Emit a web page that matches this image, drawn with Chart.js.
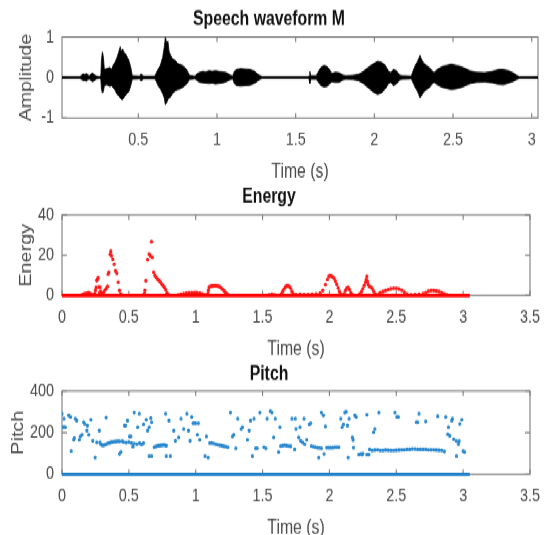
<!DOCTYPE html>
<html>
<head>
<meta charset="utf-8">
<script src="https://cdn.jsdelivr.net/npm/chart.js@4.4.1/dist/chart.umd.min.js"></script>
<style>
html, body { margin: 0; padding: 0; background: #fff; overflow: hidden; }
#wrap { position: absolute; left: 0; top: 0; width: 549px; height: 428px; transform: scaleY(1.25); transform-origin: 0 0; }
canvas { position: absolute; left: 0; }
</style>
</head>
<body>
<div id="wrap">
  <canvas id="wave" width="549" height="152" style="top:0px"></canvas>
  <canvas id="energy" width="549" height="152" style="top:142px"></canvas>
  <canvas id="pitch" width="549" height="152" style="top:285px"></canvas>
</div>
<script>
// waveform envelope (upper / lower)
const waveTime  = [0.015, 0.13, 0.14, 0.15, 0.16, 0.17, 0.18, 0.19, 0.20, 0.21, 0.22, 0.235, 0.255, 0.262, 0.266, 0.272, 0.278, 0.284, 0.30, 0.32, 0.33, 0.34, 0.355, 0.365, 0.375, 0.385, 0.39, 0.40, 0.41, 0.42, 0.43, 0.44, 0.452, 0.462,
  0.51, 0.515, 0.525, 0.53, 0.605, 0.615, 0.625, 0.64, 0.655, 0.665, 0.672, 0.68, 0.688, 0.695, 0.705, 0.72, 0.735, 0.75, 0.765, 0.78, 0.795, 0.81, 0.825,
  0.86, 0.875, 0.89, 0.91, 0.93, 0.95, 0.97, 0.99, 1.01, 1.04, 1.06, 1.08, 1.1, 1.11, 1.125, 1.15, 1.18, 1.21, 1.24, 1.26, 1.28, 1.29,
  1.58, 1.585, 1.59, 1.596, 1.63, 1.645, 1.66, 1.68, 1.70, 1.715, 1.73, 1.75, 1.775, 1.80, 1.82, 1.86, 1.9, 1.93, 1.96, 1.99, 2.02, 2.045, 2.07, 2.09, 2.105, 2.12, 2.14, 2.16, 2.18,
  2.235, 2.245, 2.26, 2.275, 2.29, 2.30, 2.315, 2.33, 2.35, 2.37, 2.38, 2.40, 2.43, 2.46, 2.49, 2.52, 2.55, 2.58, 2.61, 2.65, 2.70, 2.75, 2.79, 2.82, 2.85, 2.88, 2.905, 2.92, 3.04];
const waveUpper = [0.02, 0.02, 0.06, 0.09, 0.07, 0.1, 0.06, 0.04, 0.09, 0.11, 0.07, 0.03, 0.02, 0.05, 0.45, 0.63, 0.5, 0.2, 0.22, 0.25, 0.2, 0.3, 0.4, 0.5, 0.62, 0.76, 0.65, 0.7, 0.62, 0.58, 0.5, 0.42, 0.25, 0.04,
  0.03, 0.08, 0.07, 0.03, 0.03, 0.12, 0.2, 0.3, 0.5, 0.75, 1.0, 0.85, 0.9, 0.65, 0.55, 0.45, 0.42, 0.35, 0.32, 0.3, 0.25, 0.18, 0.05,
  0.03, 0.1, 0.13, 0.15, 0.14, 0.17, 0.15, 0.17, 0.15, 0.14, 0.12, 0.07, 0.03, 0.15, 0.2, 0.22, 0.21, 0.2, 0.15, 0.08, 0.03, 0.02,
  0.02, 0.04, 0.15, 0.04, 0.04, 0.15, 0.25, 0.3, 0.27, 0.2, 0.1, 0.13, 0.12, 0.06, 0.04, 0.05, 0.08, 0.15, 0.25, 0.33, 0.4, 0.38, 0.3, 0.15, 0.12, 0.2, 0.17, 0.06, 0.04,
  0.03, 0.15, 0.3, 0.4, 0.55, 0.45, 0.35, 0.3, 0.25, 0.15, 0.12, 0.2, 0.27, 0.3, 0.33, 0.3, 0.27, 0.22, 0.16, 0.13, 0.12, 0.15, 0.2, 0.2, 0.17, 0.12, 0.05, 0.02, 0.02];
const waveLower = [-0.02, -0.02, -0.05, -0.08, -0.07, -0.09, -0.05, -0.04, -0.08, -0.1, -0.08, -0.03, -0.02, -0.05, -0.3, -0.38, -0.35, -0.2, -0.18, -0.22, -0.2, -0.25, -0.33, -0.42, -0.45, -0.5, -0.53, -0.55, -0.48, -0.44, -0.38, -0.35, -0.2, -0.04,
  -0.03, -0.08, -0.07, -0.03, -0.03, -0.1, -0.2, -0.28, -0.4, -0.5, -0.67, -0.62, -0.55, -0.5, -0.48, -0.38, -0.33, -0.3, -0.28, -0.25, -0.2, -0.15, -0.05,
  -0.03, -0.08, -0.12, -0.13, -0.14, -0.15, -0.14, -0.16, -0.15, -0.13, -0.1, -0.06, -0.03, -0.15, -0.2, -0.21, -0.2, -0.19, -0.14, -0.08, -0.03, -0.02,
  -0.02, -0.04, -0.15, -0.04, -0.04, -0.12, -0.2, -0.23, -0.22, -0.16, -0.1, -0.12, -0.12, -0.06, -0.04, -0.05, -0.08, -0.15, -0.25, -0.35, -0.42, -0.38, -0.28, -0.15, -0.12, -0.2, -0.16, -0.06, -0.04,
  -0.03, -0.12, -0.25, -0.35, -0.5, -0.45, -0.35, -0.3, -0.25, -0.15, -0.12, -0.18, -0.24, -0.27, -0.3, -0.28, -0.25, -0.2, -0.15, -0.12, -0.11, -0.13, -0.17, -0.18, -0.14, -0.1, -0.05, -0.02, -0.02];

// short-time energy (non-zero frames)
const energyTime  = [0.15, 0.16, 0.17, 0.18, 0.19, 0.20, 0.21, 0.22, 0.23, 0.245, 0.25, 0.255, 0.26, 0.265, 0.27, 0.275, 0.28, 0.285, 0.29, 0.30, 0.31, 0.32, 0.33, 0.34, 0.345, 0.35, 0.36, 0.365, 0.37, 0.38, 0.39, 0.40, 0.41, 0.42, 0.43, 0.44,
  0.615, 0.62, 0.627, 0.64, 0.652, 0.66, 0.669, 0.675, 0.685, 0.695, 0.705, 0.715, 0.725, 0.735, 0.745, 0.755, 0.765, 0.775, 0.785, 0.795,
  0.87, 0.89, 0.91, 0.93, 0.95, 0.97, 0.99, 1.01, 1.03, 1.05, 1.07,
  1.09, 1.095, 1.10, 1.11, 1.12, 1.13, 1.14, 1.15, 1.16, 1.17, 1.18, 1.19, 1.20, 1.21, 1.22, 1.23, 1.24,
  1.55, 1.57, 1.59, 1.64, 1.65, 1.66, 1.67, 1.68, 1.69, 1.70, 1.71, 1.72, 1.73, 1.75, 1.78, 1.81, 1.84, 1.87, 1.90,
  1.93, 1.95, 1.97, 1.985, 1.995, 2.005, 2.015, 2.025, 2.035, 2.045, 2.055, 2.065, 2.075, 2.085,
  2.11, 2.12, 2.13, 2.14, 2.15, 2.16, 2.17,
  2.225, 2.24, 2.25, 2.26, 2.27, 2.275, 2.28, 2.285, 2.29, 2.30, 2.31, 2.32, 2.33, 2.34, 2.35,
  2.37, 2.38, 2.40, 2.42, 2.44, 2.46, 2.48, 2.50, 2.52, 2.54, 2.56, 2.58, 2.61, 2.64, 2.67, 2.70,
  2.72, 2.74, 2.76, 2.78, 2.80, 2.82, 2.84, 2.86, 2.88];
const energyValue = [0.4, 0.6, 0.9, 1.0, 1.2, 1.4, 1.0, 0.6, 0.3, 1.0, 2.5, 4.0, 7.5, 8.2, 8.8, 4.2, 1.5, 4.0, 2.0, 1.0, 1.5, 2.5, 3.5, 4.5, 10.7, 11.5, 20.5, 22, 19.8, 18, 15.6, 12.3, 11, 6.6, 2.5, 0.8,
  1.0, 2.5, 7.4, 17.8, 20.6, 19.8, 26.8, 18.9, 11.5, 9.9, 9.0, 8.2, 7.5, 6.8, 5.8, 5.0, 4.2, 3.0, 1.4, 0.5,
  0.3, 0.7, 1.0, 1.2, 1.4, 1.5, 1.5, 1.4, 1.2, 0.8, 0.4,
  1.0, 2.5, 4.2, 4.6, 4.8, 4.8, 4.9, 4.9, 4.8, 4.7, 4.3, 3.8, 3.2, 2.5, 1.8, 1.1, 0.5,
  0.4, 0.6, 0.3, 0.8, 2.0, 3.2, 4.2, 4.8, 4.9, 4.5, 3.6, 2.0, 0.8, 0.5, 0.6, 0.5, 0.5, 0.6, 0.8,
  1.2, 2.5, 5.5, 8.0, 9.5, 9.9, 9.6, 9.2, 8.5, 7.2, 5.6, 3.8, 2.0, 0.8,
  1.0, 2.5, 3.8, 4.1, 3.0, 1.5, 0.5,
  0.8, 2.0, 3.5, 5.0, 6.6, 8.0, 9.5, 7.0, 5.4, 4.5, 4.2, 3.5, 2.2, 1.0, 0.4,
  0.8, 1.5, 2.0, 2.5, 3.0, 3.4, 3.6, 3.6, 3.3, 2.7, 1.8, 0.8, 0.4, 0.5, 0.6, 0.9,
  1.5, 2.2, 2.5, 2.5, 2.3, 2.0, 1.5, 0.8, 0.3];

// pitch estimates (voiced frames)
const pitchTime  = [0.0, 0.005, 0.015, 0.025, 0.015, 0.05, 0.064, 0.069, 0.088, 0.092, 0.1, 0.11, 0.13, 0.137, 0.15, 0.162, 0.17, 0.19, 0.186, 0.2, 0.216, 0.23, 0.248, 0.26, 0.279, 0.284,
  0.29, 0.30, 0.31, 0.32, 0.33, 0.34, 0.35, 0.36, 0.37, 0.38, 0.39, 0.40, 0.41, 0.42, 0.43, 0.45, 0.46, 0.48, 0.50, 0.52, 0.54, 0.56, 0.58, 0.60, 0.61,
  0.33, 0.43, 0.44, 0.468, 0.475, 0.49, 0.505, 0.515, 0.53, 0.54, 0.566, 0.578, 0.59, 0.61, 0.63, 0.64, 0.652, 0.664, 0.67, 0.652, 0.67,
  0.69, 0.70, 0.71, 0.72, 0.73, 0.74, 0.75, 0.76, 0.77, 0.78,
  0.775, 0.78, 0.80, 0.81, 0.836, 0.848, 0.872, 0.89, 0.91, 0.934, 0.946, 0.958, 0.97, 0.98, 0.99, 1.0, 1.012, 1.02, 1.03, 1.07, 1.093, 1.08,
  1.105, 1.12, 1.135, 1.15, 1.165, 1.18, 1.195, 1.21, 1.225, 1.24,
  1.26, 1.275, 1.285, 1.3, 1.314, 1.34, 1.35, 1.387, 1.40, 1.41, 1.424, 1.436, 1.448, 1.46, 1.48, 1.51, 1.525, 1.534, 1.558, 1.57, 1.583, 1.595, 1.62, 1.63,
  1.635, 1.65, 1.665, 1.68, 1.695, 1.71,
  1.72, 1.745, 1.75, 1.74, 1.77, 1.785, 1.78, 1.81, 1.80, 1.815, 1.83, 1.85, 1.86,
  1.865, 1.88, 1.895, 1.91, 1.925, 1.94,
  1.92, 1.94, 1.955, 1.97, 1.96,
  1.98, 1.995, 2.01, 2.025, 2.04, 2.055, 2.07,
  2.085, 2.095, 2.105, 2.115, 2.125, 2.135, 2.147, 2.14, 2.172, 2.177, 2.18, 2.19, 2.20, 2.22, 2.235, 2.25, 2.245, 2.28, 2.28, 2.295, 2.30, 2.33, 2.34, 2.37,
  2.32, 2.34, 2.36, 2.38, 2.40, 2.42, 2.44, 2.46, 2.48, 2.50, 2.52, 2.54, 2.56, 2.58, 2.60, 2.62, 2.64, 2.66, 2.68, 2.70, 2.72, 2.74, 2.76, 2.78, 2.80, 2.82, 2.84, 2.86,
  2.49, 2.505, 2.515, 2.65, 2.66, 2.67, 2.72, 2.81, 2.87, 2.89, 2.885, 2.90, 2.915, 2.92, 2.93, 2.95, 2.97, 2.965, 2.975, 2.95, 2.99, 3.0, 3.01];
const pitchValue = [291, 226, 226, 226, 267, 283, 275, 112, 166, 174, 267, 258, 166, 182, 190, 250, 242, 234, 210, 190, 262, 161, 80, 153, 210, 153,
  145, 140, 140, 142, 145, 148, 150, 152, 155, 155, 157, 158, 158, 160, 158, 160, 155, 152, 155, 150, 148, 145, 150, 145, 150,
  272, 98, 107, 234, 234, 258, 182, 182, 133, 296, 226, 291, 145, 240, 262, 210, 226, 270, 250, 88, 88,
  130, 133, 136, 138, 138, 140, 140, 142, 140, 138,
  291, 88, 258, 88, 210, 161, 177, 267, 218, 291, 210, 161, 275, 245, 245, 245, 190, 245, 166, 88, 80, 182,
  150, 150, 148, 145, 142, 140, 138, 135, 133, 130,
  296, 182, 190, 125, 267, 218, 226, 166, 210, 258, 88, 267, 125, 125, 296, 130, 125, 267, 304, 296, 177, 267, 107, 226,
  136, 138, 140, 138, 136, 135,
  267, 267, 218, 120, 177, 161, 226, 267, 153, 145, 166, 240, 245,
  136, 133, 130, 128, 127, 125,
  80, 296, 283, 230, 98,
  128, 128, 128, 128, 130, 130, 130,
  267, 226, 240, 296, 300, 234, 267, 80, 177, 165, 128, 283, 275, 95, 98, 100, 95, 286, 95, 95, 120, 202, 218, 296,
  115, 117, 118, 115, 115, 117, 116, 115, 115, 116, 117, 118, 118, 120, 120, 122, 122, 120, 120, 120, 120, 118, 118, 118, 117, 116, 115, 110,
  296, 275, 275, 250, 250, 291, 254, 279, 275, 226, 193, 185, 258, 267, 169, 160, 160, 145, 242, 88, 262, 112, 107];

// unvoiced / silent frames sit at zero across the whole signal
const frameSpan = [0, 3.05];
const frameZero = [0, 0];

// axis ticks
const waveXTicks = [0.5, 1, 1.5, 2, 2.5, 3];
const waveYTicks = [-1, 0, 1];
const timeTicks = [0, 0.5, 1, 1.5, 2, 2.5, 3, 3.5];
const energyYTicks = [0, 20, 40];
const pitchYTicks = [0, 200, 400];

const FONT = 'Liberation Sans, Arial, Helvetica, sans-serif';

function pts(xs, ys) {
    return xs.map((x, i) => ({x: x, y: ys[i]}));
}

// MATLAB style box with inward tick marks
const boxTicks = {
    id: 'boxTicks',
    beforeDatasetsDraw(chart) {
        const {ctx, chartArea: a, scales: {x, y}} = chart;
        ctx.save();
        ctx.strokeStyle = '#7c7c7c';
        ctx.lineWidth = 1.1;
        ctx.strokeRect(a.left, a.top, a.right - a.left, a.bottom - a.top);
        ctx.beginPath();
        x.ticks.forEach(t => {
            const px = x.getPixelForValue(t.value);
            ctx.moveTo(px, a.bottom); ctx.lineTo(px, a.bottom - 4);
            ctx.moveTo(px, a.top); ctx.lineTo(px, a.top + 4);
        });
        y.ticks.forEach(t => {
            const py = y.getPixelForValue(t.value);
            ctx.moveTo(a.left, py); ctx.lineTo(a.left + 5, py);
            ctx.moveTo(a.right, py); ctx.lineTo(a.right - 5, py);
        });
        ctx.stroke();
        ctx.restore();
    }
};

function makeChart(id, opt) {
    return new Chart(document.getElementById(id).getContext('2d'), {
        type: 'scatter',
        data: {datasets: opt.datasets},
        plugins: [boxTicks],
        options: {
            responsive: false,
            animation: false,
            events: [],
            layout: {padding: {top: 0, left: 0, right: 11, bottom: 0}},
            plugins: {
                legend: {display: false},
                tooltip: {enabled: false},
                title: {
                    display: true,
                    text: opt.title,
                    color: '#111',
                    font: {family: FONT, size: 15.8, weight: 'bold'},
                    padding: {top: opt.titleTop, bottom: opt.titleBottom}
                }
            },
            scales: {
                x: {
                    type: 'linear',
                    min: opt.xMin,
                    max: opt.xMax,
                    grid: {display: false, drawTicks: false},
                    border: {display: false},
                    afterBuildTicks: s => { s.ticks = opt.xTicks.map(v => ({value: v})); },
                    afterFit: s => { s.height = 57.6; },
                    ticks: {
                        color: '#4a4a4a',
                        font: {family: FONT, size: 14.4},
                        padding: 9,
                        autoSkip: false,
                        maxRotation: 0,
                        callback: v => String(v)
                    },
                    title: {
                        display: true,
                        text: 'Time (s)',
                        color: '#4a4a4a',
                        font: {family: FONT, size: 15.8},
                        padding: {top: 0, bottom: 5}
                    }
                },
                y: {
                    min: opt.yMin,
                    max: opt.yMax,
                    grid: {display: false, drawTicks: false},
                    border: {display: false},
                    afterBuildTicks: s => { s.ticks = opt.yTicks.map(v => ({value: v})); },
                    afterFit: s => { s.width = 62; },
                    ticks: {
                        color: '#4a4a4a',
                        font: {family: FONT, size: 14.4},
                        padding: 8,
                        callback: v => String(v)
                    },
                    title: {
                        display: true,
                        text: opt.yTitle,
                        color: '#4a4a4a',
                        font: {family: FONT, size: 15.8},
                        padding: {top: opt.yTitlePad, bottom: 0}
                    }
                }
            }
        }
    });
}

makeChart('wave', {
    title: 'Speech waveform M', yTitle: 'Amplitude', yTitlePad: 17,
    titleTop: 6.5, titleBottom: 4.1,
    xMin: 0.015, xMax: 3.04, xTicks: waveXTicks,
    yMin: -1, yMax: 1, yTicks: waveYTicks,
    datasets: [{
        data: pts(waveTime, waveUpper),
        showLine: true, borderColor: '#000', borderWidth: 0.8, pointRadius: 0,
        backgroundColor: '#000', fill: '+1', tension: 0
    }, {
        data: pts(waveTime, waveLower),
        showLine: true, borderColor: '#000', borderWidth: 0.8, pointRadius: 0, tension: 0
    }]
});

makeChart('energy', {
    title: 'Energy', yTitle: 'Energy', yTitlePad: 17,
    titleTop: 6.5, titleBottom: 4.5,
    xMin: 0, xMax: 3.5, xTicks: timeTicks,
    yMin: 0, yMax: 40, yTicks: energyYTicks,
    datasets: [{
        data: pts(frameSpan, frameZero),
        showLine: true, borderColor: '#ff0000', borderWidth: 2.6, pointRadius: 0,
        clip: {left: 0, top: 0, right: 0, bottom: 3}
    }, {
        data: pts(energyTime, energyValue),
        pointRadius: 1.6, pointBorderWidth: 0, backgroundColor: '#ff1a1a'
    }]
});

makeChart('pitch', {
    title: 'Pitch', yTitle: 'Pitch', yTitlePad: 9.5,
    titleTop: 5.5, titleBottom: 3.3,
    xMin: 0, xMax: 3.5, xTicks: timeTicks,
    yMin: 0, yMax: 400, yTicks: pitchYTicks,
    datasets: [{
        data: pts(frameSpan, frameZero),
        showLine: true, borderColor: '#1b7cc6', borderWidth: 2.6, pointRadius: 0,
        clip: {left: 0, top: 0, right: 0, bottom: 3}
    }, {
        data: pts(pitchTime, pitchValue),
        pointRadius: 1.6, pointBorderWidth: 0, backgroundColor: '#2a88cf'
    }]
});
</script>
</body>
</html>
